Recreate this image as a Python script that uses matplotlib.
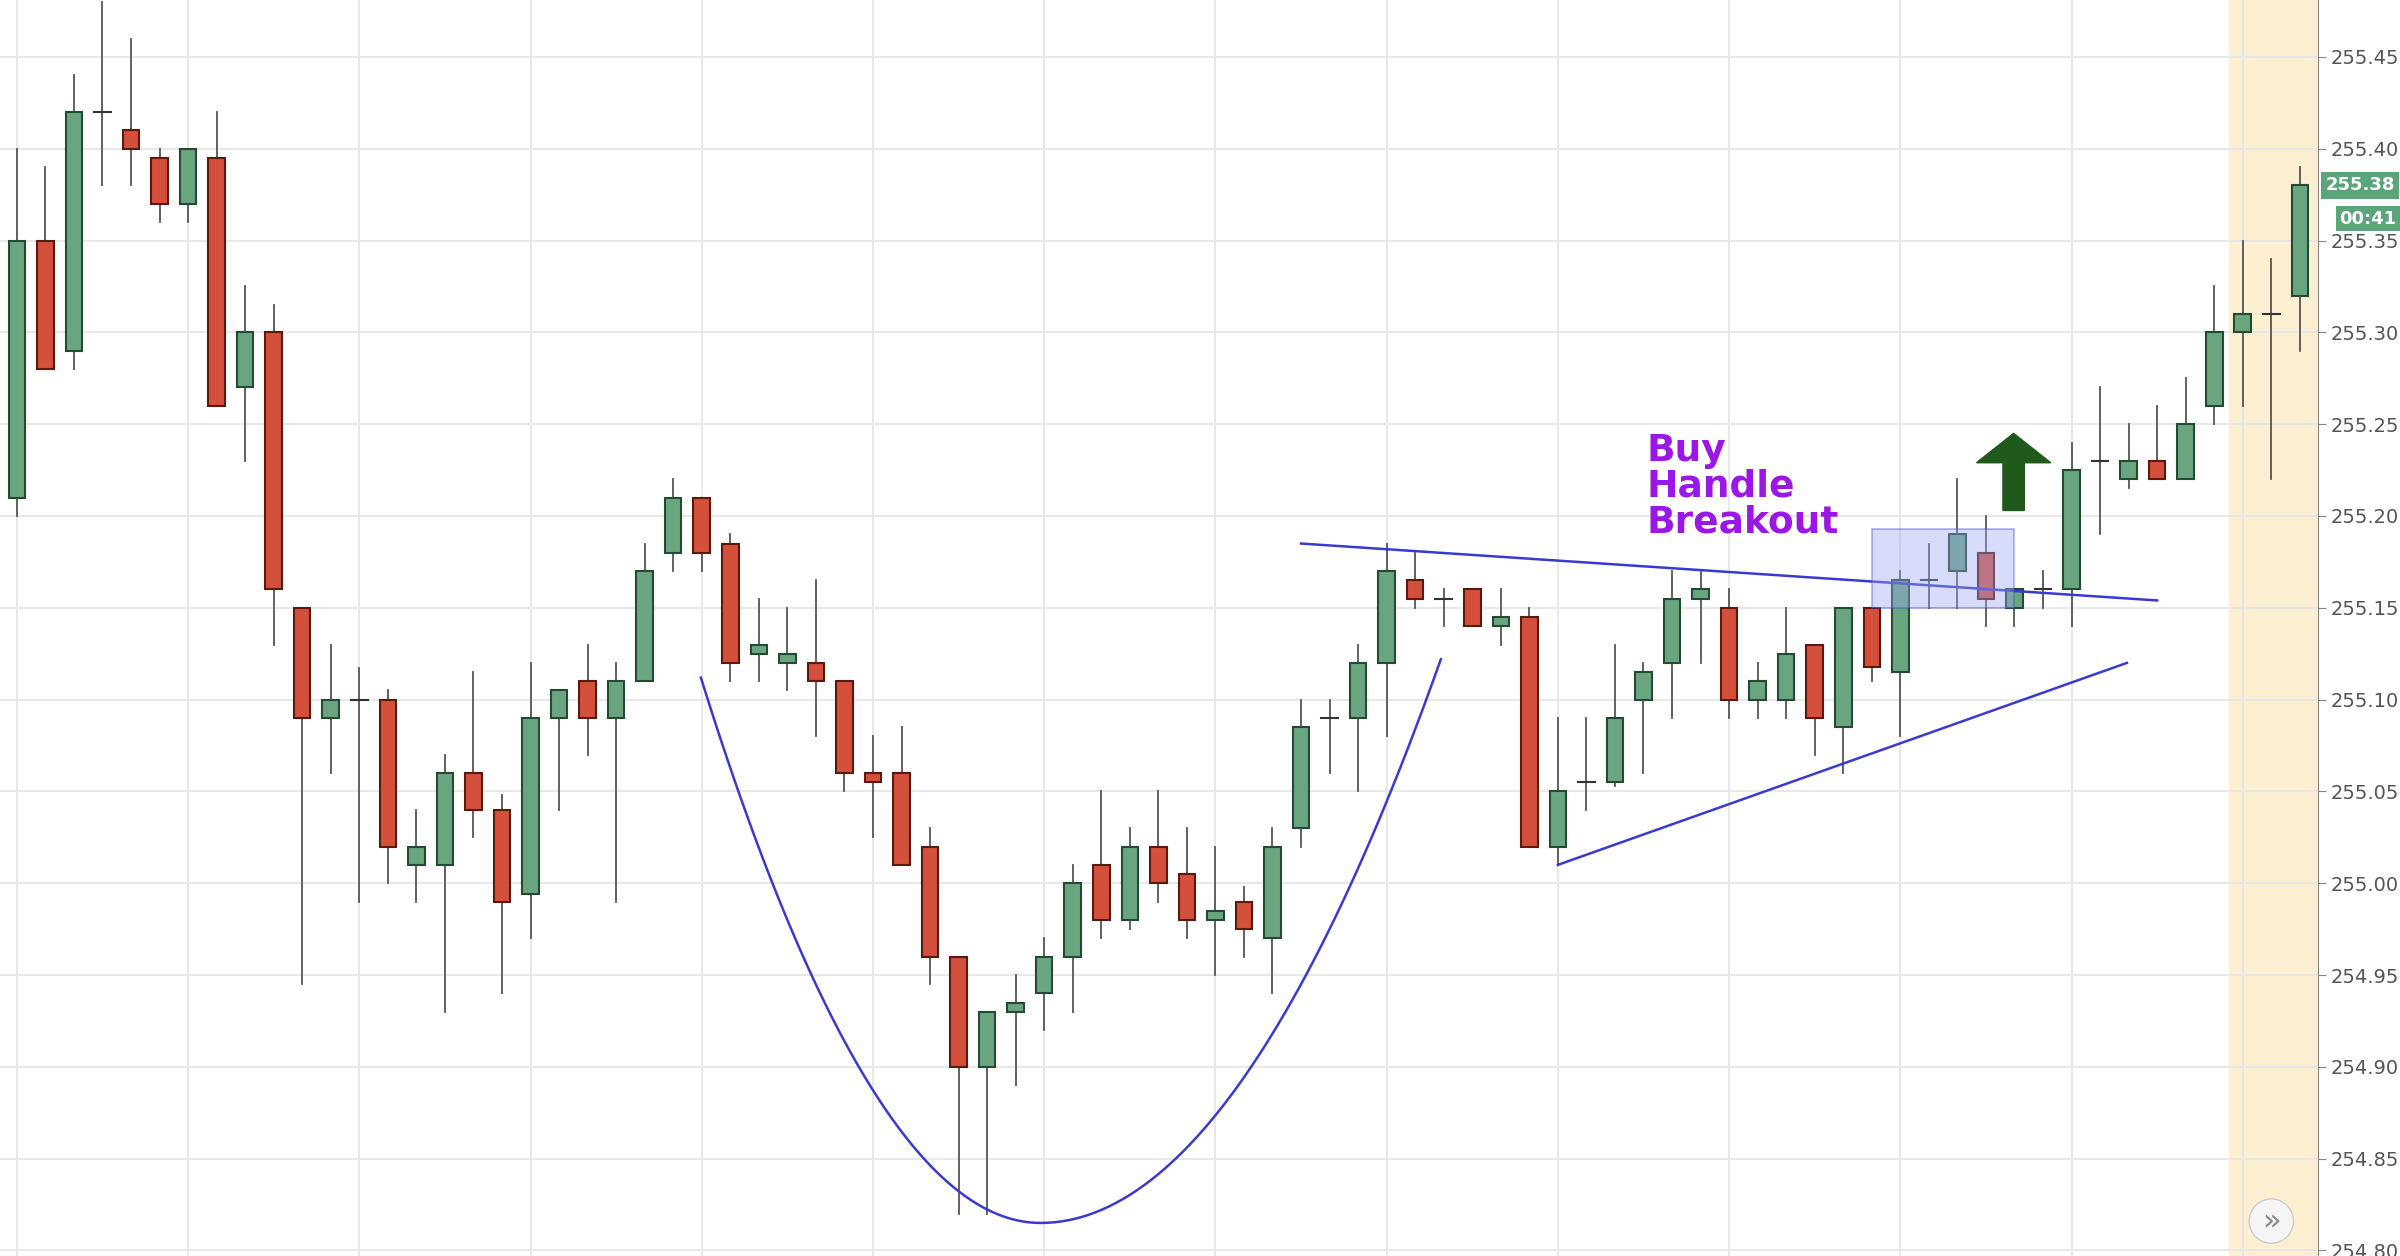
import matplotlib
matplotlib.use("Agg")
import matplotlib.pyplot as plt
import numpy as np
from matplotlib.patches import Rectangle, FancyArrow

opens = [255.21,255.35,255.29,255.42,255.41,255.395,255.37,255.395,255.27,255.30,
         255.15,255.09,255.10,255.10,255.01,255.01,255.06,255.04,254.994,255.09,
         255.11,255.09,255.11,255.18,255.21,255.185,255.125,255.12,255.12,255.11,
         255.06,255.06,255.02,254.96,254.90,254.93,254.94,254.96,255.01,254.98,
         255.02,255.005,254.98,254.99,254.97,255.03,255.09,255.09,255.12,255.165,
         255.155,255.16,255.14,255.145,255.02,255.055,255.055,255.10,255.12,255.155,
         255.15,255.10,255.10,255.13,255.085,255.15,255.115,255.165,255.17,255.18,
         255.15,255.16,255.16,255.23,255.22,255.23,255.22,255.26,255.30,255.31,255.32]
highs = [255.40,255.39,255.44,255.48,255.46,255.40,255.40,255.42,255.325,255.315,
         255.15,255.13,255.117,255.105,255.04,255.07,255.115,255.048,255.12,255.105,
         255.13,255.12,255.185,255.22,255.21,255.19,255.155,255.15,255.165,255.11,
         255.08,255.085,255.03,254.96,254.93,254.95,254.97,255.01,255.05,255.03,
         255.05,255.03,255.02,254.998,255.03,255.10,255.10,255.13,255.185,255.18,
         255.16,255.16,255.16,255.15,255.09,255.09,255.13,255.12,255.17,255.17,
         255.16,255.12,255.15,255.13,255.15,255.15,255.17,255.185,255.22,255.20,
         255.16,255.17,255.24,255.27,255.25,255.26,255.275,255.325,255.35,255.34,255.39]
lows = [255.20,255.28,255.28,255.38,255.38,255.36,255.36,255.26,255.23,255.13,
        254.945,255.06,254.99,255.00,254.99,254.93,255.025,254.94,254.97,255.04,
        255.07,254.99,255.11,255.17,255.17,255.11,255.11,255.105,255.08,255.05,
        255.025,255.01,254.945,254.82,254.82,254.89,254.92,254.93,254.97,254.975,
        254.99,254.97,254.95,254.96,254.94,255.02,255.06,255.05,255.08,255.15,
        255.14,255.14,255.13,255.02,255.01,255.04,255.053,255.06,255.09,255.12,
        255.09,255.09,255.09,255.07,255.06,255.11,255.08,255.15,255.15,255.14,
        255.14,255.15,255.14,255.19,255.215,255.22,255.22,255.25,255.26,255.22,255.29]
closes = [255.35,255.28,255.42,255.42,255.40,255.37,255.40,255.26,255.30,255.16,
          255.09,255.10,255.10,255.02,255.02,255.06,255.04,254.99,255.09,255.105,
          255.09,255.11,255.17,255.21,255.18,255.12,255.13,255.125,255.11,255.06,
          255.055,255.01,254.96,254.90,254.93,254.935,254.96,255.00,254.98,255.02,
          255.00,254.98,254.985,254.975,255.02,255.085,255.09,255.12,255.17,255.155,
          255.155,255.14,255.145,255.02,255.05,255.055,255.09,255.115,255.155,255.16,
          255.10,255.11,255.125,255.09,255.15,255.118,255.165,255.165,255.19,255.155,
          255.16,255.16,255.225,255.23,255.23,255.22,255.25,255.30,255.31,255.31,255.38]
yticks = [254.80,254.85,254.90,254.95,255.00,255.05,255.10,255.15,255.20,255.25,255.30,255.35,255.40,255.45]
last_price = "255.38"
timer = "00:41"

GREEN = "#69a67f"; RED = "#d4503b"; GEDGE = "#244a33"; REDGE = "#5a1a10"

fig = plt.figure(figsize=(24, 12.56), dpi=100)
ax = fig.add_axes([0, 0, 0.966, 1])
n = len(opens)
ax.set_xlim(-0.59, 80.65)
ax.set_ylim(254.797, 255.481)

ax.axvspan(77.5, 80.65, color="#fdf0d2", zorder=0)
for g in range(0, n, 6):
    ax.axvline(g, color="#e6e6e6", lw=1.3, zorder=0.5)
for t in yticks:
    ax.axhline(t, color="#e6e6e6", lw=1.3, zorder=0.5)

w = 0.58
for i in range(n):
    o, h, l, c = opens[i], highs[i], lows[i], closes[i]
    ax.plot([i, i], [l, h], color="#555555", lw=1.3, zorder=2)
    if abs(c - o) < 0.002:
        ax.plot([i - w/2, i + w/2], [o, o], color="#333333", lw=1.5, zorder=3)
        continue
    up = c > o
    ax.add_patch(Rectangle((i - w/2, min(o, c)), w, abs(c - o),
                           facecolor=GREEN if up else RED,
                           edgecolor=GEDGE if up else REDGE, lw=1.5, zorder=3))

# cup
xl = np.linspace(23.97, 35.87, 60)
yl = 254.815 + 0.297 * ((xl - 35.87) / 11.9) ** 2
xr = np.linspace(35.87, 49.9, 60)
yr = 254.815 + 0.307 * ((xr - 35.87) / 14.03) ** 2
ax.plot(np.r_[xl, xr], np.r_[yl, yr], color="#3a3ad0", lw=1.8, zorder=4)
ax.plot([45.0, 75.0], [255.185, 255.154], color="#3a3ad0", lw=1.8, zorder=4)
ax.plot([54.0, 73.94], [255.010, 255.12], color="#3a3ad0", lw=1.8, zorder=4)
ax.add_patch(Rectangle((64.99, 255.15), 4.98, 0.043, facecolor="#9aa8f0", alpha=0.4,
                       edgecolor="#3a3ad0", lw=1.2, zorder=5))
ax.add_patch(FancyArrow(69.97, 255.203, 0, 0.026, width=0.75, head_width=2.6,
                        head_length=0.016, length_includes_head=False,
                        color="#1f5a1a", zorder=6))
ax.text(57.1, 255.245, "Buy\nHandle\nBreakout", color="#9b17e6", fontsize=27,
        fontweight="bold", va="top", ha="left", linespacing=0.98, zorder=6)

ax.yaxis.tick_right()
ax.set_yticks(yticks)
ax.set_yticklabels([f"{t:.2f}" for t in yticks], fontsize=14, color="#555555")
ax.tick_params(axis="y", length=6, color="#888888", pad=3)
ax.set_xticks([])
for s in ["top", "left", "bottom"]:
    ax.spines[s].set_visible(False)
ax.spines["right"].set_color("#888888")

ax.text(1.003, 255.38, last_price, transform=ax.get_yaxis_transform(), fontsize=13,
        fontweight="bold", color="white", va="center", ha="left",
        bbox=dict(boxstyle="square,pad=0.25", fc="#5aa57a", ec="none"))
ax.text(1.009, 255.362, timer, transform=ax.get_yaxis_transform(), fontsize=13,
        fontweight="bold", color="white", va="center", ha="left",
        bbox=dict(boxstyle="square,pad=0.2", fc="#5aa57a", ec="none"))
ax.text(79.0, 254.816, "»", fontsize=22, color="#888888", ha="center", va="center",
        bbox=dict(boxstyle="circle,pad=0.25", fc="#f5f5f5", ec="#cccccc"))

fig.savefig("out.png", dpi=100)
